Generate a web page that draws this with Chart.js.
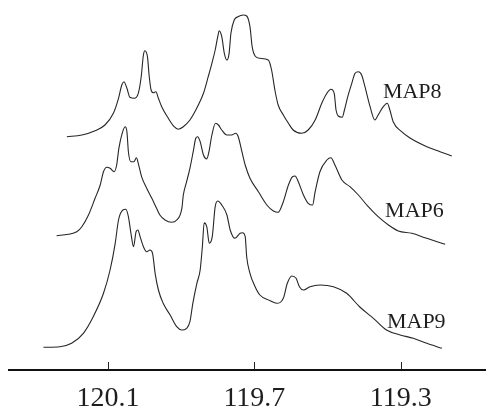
<!DOCTYPE html>
<html>
<head>
<meta charset="utf-8">
<script src="https://cdn.jsdelivr.net/npm/chart.js@4/dist/chart.umd.min.js"></script>
<style>
  html, body { margin: 0; padding: 0; background: #fff; }
  #wrap { width: 486px; height: 408px; }
</style>
</head>
<body>
<div id="wrap"><canvas id="nmrChart"></canvas></div>
<script>
// chemical shift (ppm) and stacked intensity for each spectrum
const map8Shift = [120.212, 120.171, 120.135, 120.108, 120.085, 120.071, 120.062, 120.056, 120.048, 120.040,
  120.028, 120.017, 120.009, 120.003, 119.999, 119.992, 119.987, 119.982, 119.976, 119.969,
  119.962, 119.953, 119.935, 119.919, 119.908, 119.894, 119.876, 119.853, 119.839, 119.826,
  119.816, 119.807, 119.800, 119.796, 119.789, 119.782, 119.775, 119.769, 119.764, 119.755,
  119.745, 119.730, 119.721, 119.712, 119.706, 119.698, 119.685, 119.662, 119.653, 119.644,
  119.635, 119.621, 119.607, 119.594, 119.571, 119.553, 119.534, 119.516, 119.502, 119.491,
  119.482, 119.477, 119.471, 119.460, 119.454, 119.445, 119.434, 119.425, 119.416, 119.407,
  119.398, 119.384, 119.371, 119.362, 119.348, 119.337, 119.330, 119.321, 119.298, 119.275,
  119.229, 119.193, 119.161];
const map8Int = [233.3, 235, 239.3, 245, 256.7, 271.7, 285, 288.3, 281.7, 272.7,
  271.7, 276.7, 293.3, 315, 319.3, 313.3, 293.3, 280, 277.3, 278.3,
  271.7, 263.3, 251.7, 243.3, 240.7, 243.3, 250, 265, 276.7, 293.3,
  306.7, 320, 333.3, 339.3, 333.3, 316.7, 310, 316.7, 336.7, 350,
  353.3, 355, 354, 343.3, 323.3, 314, 311.7, 310, 300, 280,
  265, 255, 246.7, 240, 236.7, 240, 250, 266.7, 276.7, 280.7,
  276.7, 260, 254, 252.7, 260, 273.3, 286.7, 296.7, 298.3, 295,
  283.3, 263.3, 250, 255, 263.3, 266.7, 260, 248.3, 238.3, 232,
  223.3, 218.3, 214];

const map6Shift = [120.240, 120.208, 120.185, 120.171, 120.153, 120.135, 120.121, 120.112, 120.103, 120.094,
  120.083, 120.076, 120.070, 120.061, 120.053, 120.048, 120.044, 120.037, 120.029, 120.022,
  120.017, 120.008, 119.994, 119.980, 119.967, 119.958, 119.944, 119.926, 119.912, 119.898,
  119.894, 119.885, 119.876, 119.867, 119.860, 119.855, 119.848, 119.839, 119.830, 119.824,
  119.816, 119.806, 119.798, 119.789, 119.775, 119.762, 119.751, 119.744, 119.734, 119.725,
  119.712, 119.689, 119.666, 119.648, 119.635, 119.621, 119.607, 119.596, 119.589, 119.580,
  119.566, 119.553, 119.541, 119.534, 119.521, 119.502, 119.491, 119.480, 119.461, 119.439,
  119.416, 119.389, 119.362, 119.334, 119.307, 119.270, 119.234, 119.207, 119.179];
const map6Int = [134.3, 135.7, 138.3, 143.3, 155, 171.7, 185, 198.3, 202.7, 201.7,
  198.3, 205, 221.7, 236.7, 243.3, 238.3, 218.3, 208.3, 208.3, 212.3,
  206.7, 193.3, 181.7, 171.7, 161.7, 155, 150, 147.7, 150, 161.7,
  175, 188.3, 201.7, 218.3, 231.7, 233.3, 228.3, 215, 211, 218.3,
  235, 246.7, 245, 240, 235, 235, 236.7, 233.3, 218.3, 205,
  191.7, 178.3, 165, 159, 157.7, 168.3, 185, 193.3, 194, 188.3,
  175, 166.7, 165, 178.3, 198.3, 210, 212.3, 205, 190, 183.3,
  175, 163.3, 153.3, 145, 139, 136.7, 132.3, 129, 125.7];

const map9Shift = [120.276, 120.231, 120.199, 120.167, 120.140, 120.112, 120.094, 120.080, 120.071, 120.059,
  120.051, 120.044, 120.037, 120.030, 120.023, 120.018, 120.012, 120.003, 119.994, 119.985,
  119.978, 119.971, 119.962, 119.949, 119.930, 119.912, 119.898, 119.885, 119.876, 119.868,
  119.857, 119.848, 119.842, 119.837, 119.830, 119.823, 119.815, 119.807, 119.800, 119.789,
  119.775, 119.766, 119.753, 119.739, 119.732, 119.725, 119.721, 119.712, 119.698, 119.685,
  119.657, 119.639, 119.621, 119.610, 119.598, 119.586, 119.577, 119.566, 119.548, 119.521,
  119.484, 119.448, 119.412, 119.375, 119.339, 119.302, 119.266, 119.229, 119.188];
const map9Int = [22.7, 23.3, 26.7, 36.7, 53.3, 76.7, 100, 126.7, 150, 160,
  160.7, 153.3, 136.7, 123.3, 138.3, 140, 133.3, 123.3, 118.3, 120,
  116.7, 96.7, 80, 66.7, 55, 43.3, 40, 41.7, 48.3, 66.7,
  86.7, 100, 123.3, 147.3, 143.3, 126.7, 133.3, 163.3, 169, 165,
  155, 140, 131.7, 136.7, 137.3, 133.3, 113.3, 96.7, 83.3, 75,
  69.3, 66.7, 71.7, 86.7, 94, 91.7, 83.3, 80, 83.3, 85,
  83.3, 76.7, 63, 51.7, 40, 35, 31.7, 26.7, 21.7];

const seriesNames = ["MAP8", "MAP6", "MAP9"];
const tickShifts = [120.1, 119.7, 119.3];

function toPoints(xs, ys) {
  return xs.map((x, i) => ({ x: x, y: ys[i] }));
}

// where each spectrum name sits, in data units
const labelAnchors = [
  { x: 119.349, y: 272 },
  { x: 119.343, y: 153 },
  { x: 119.338, y: 42 }
];

const lineStyle = {
  borderColor: "#262626",
  borderWidth: 1.1,
  pointRadius: 0,
  fill: false,
  cubicInterpolationMode: "monotone"
};

const nameLabels = {
  id: "nameLabels",
  afterDatasetsDraw(chart) {
    const { ctx, scales } = chart;
    ctx.save();
    ctx.fillStyle = "#1e1e1e";
    ctx.font = "22px 'Liberation Serif', 'Times New Roman', serif";
    ctx.textAlign = "left";
    ctx.textBaseline = "alphabetic";
    seriesNames.forEach((name, i) => {
      const a = labelAnchors[i];
      ctx.fillText(name, scales.x.getPixelForValue(a.x), scales.y.getPixelForValue(a.y));
    });
    ctx.restore();
  }
};

// tick marks pointing up into the plot, like the original
const innerTicks = {
  id: "innerTicks",
  afterDraw(chart) {
    const { ctx, scales, chartArea } = chart;
    ctx.save();
    ctx.strokeStyle = "#222";
    ctx.lineWidth = 1;
    tickShifts.forEach((v) => {
      const px = Math.round(scales.x.getPixelForValue(v)) + 0.5;
      ctx.beginPath();
      ctx.moveTo(px, chartArea.bottom);
      ctx.lineTo(px, chartArea.bottom - 8);
      ctx.stroke();
    });
    ctx.restore();
  }
};

const ctx = document.getElementById("nmrChart").getContext("2d");
new Chart(ctx, {
  type: "line",
  data: {
    datasets: [
      Object.assign({ label: seriesNames[0], data: toPoints(map8Shift, map8Int) }, lineStyle),
      Object.assign({ label: seriesNames[1], data: toPoints(map6Shift, map6Int) }, lineStyle),
      Object.assign({ label: seriesNames[2], data: toPoints(map9Shift, map9Int) }, lineStyle)
    ]
  },
  options: {
    responsive: true,
    maintainAspectRatio: false,
    animation: false,
    layout: { padding: { left: 9, right: 0, top: 0, bottom: 0 } },
    plugins: {
      legend: { display: false },
      tooltip: { enabled: false }
    },
    scales: {
      x: {
        type: "linear",
        reverse: true,
        min: 119.0675,
        max: 120.370,
        afterBuildTicks(scale) {
          scale.ticks = tickShifts.map((v) => ({ value: v }));
        },
        afterFit(scale) {
          scale.height = 38;
        },
        grid: { display: false, drawTicks: false },
        border: { display: true, color: "#111", width: 2 },
        ticks: {
          color: "#1e1e1e",
          padding: 12,
          maxRotation: 0,
          font: { family: "'Liberation Serif', 'Times New Roman', serif", size: 28 },
          callback: (v) => v.toFixed(1)
        }
      },
      y: {
        display: false,
        min: 0,
        max: 370
      }
    }
  },
  plugins: [nameLabels, innerTicks]
});
</script>
</body>
</html>
